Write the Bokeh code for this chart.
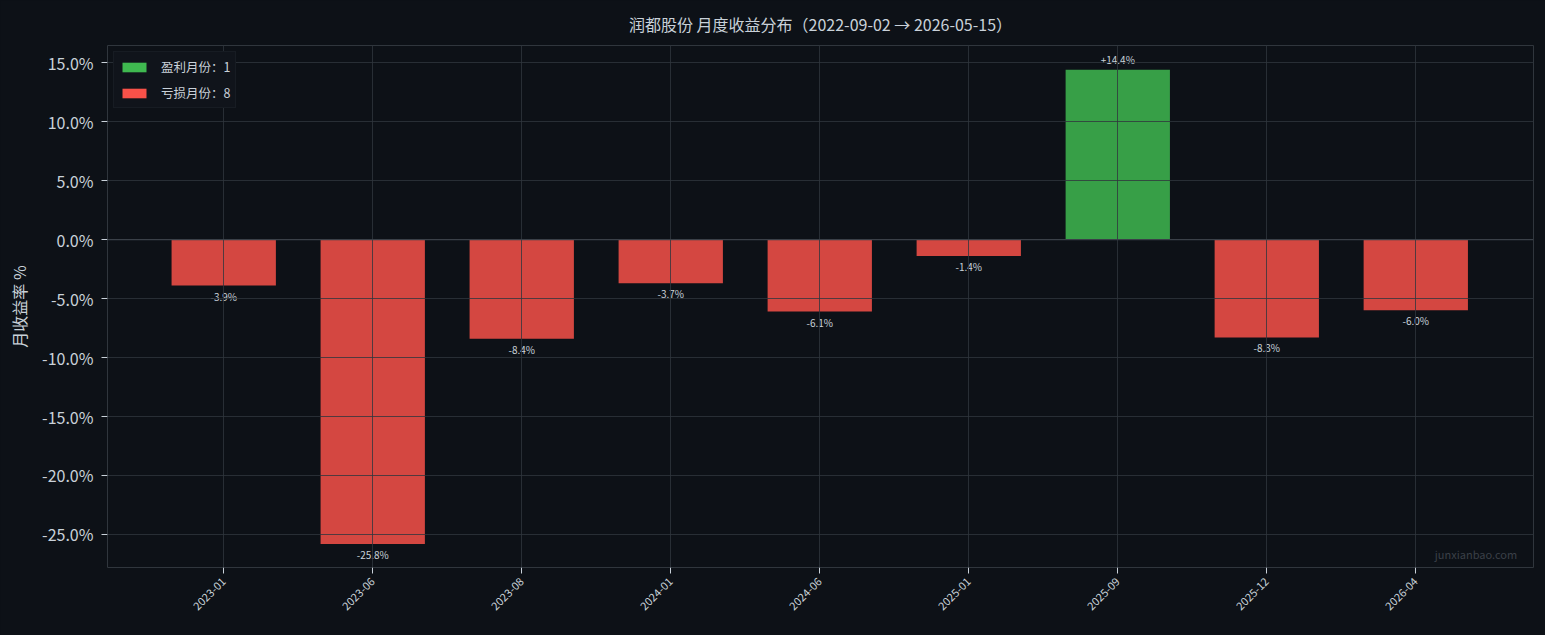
from bokeh.plotting import figure
from bokeh.models import Range1d, FixedTicker, Span, Label, Legend, LegendItem, ColumnDataSource
from bokeh.core.properties import value
from bokeh.embed import file_html
from bokeh.resources import INLINE
import math

months = ["2023-01", "2023-06", "2023-08", "2024-01", "2024-06", "2025-01", "2025-09", "2025-12", "2026-04"]
returns = [-3.9, -25.8, -8.4, -3.7, -6.1, -1.4, 14.4, -8.3, -6.0]
y_ticks = [-25, -20, -15, -10, -5, 0, 5, 10, 15]
title_text = "润都股份 月度收益分布（2022-09-02 → 2026-05-15）"
watermark = "junxianbao.com"

BG = "#0d1117"
GREEN = "#3fb950"
RED = "#f85149"
TXT = "#c9d1d9"
GRID = "#30363d"
FONT = "Noto Sans CJK SC"

idx = list(range(len(months)))
colors = [GREEN if r >= 0 else RED for r in returns]
labels = [("+%.1f%%" % r) if r >= 0 else ("%.1f%%" % r) for r in returns]
n_up = sum(1 for r in returns if r >= 0)
n_down = len(returns) - n_up

pos = [i for i, r in zip(idx, returns) if r >= 0]
neg = [i for i, r in zip(idx, returns) if r < 0]
src_pos = ColumnDataSource(dict(x=pos, y=[returns[i] for i in pos], t=[labels[i] for i in pos]))
src_neg = ColumnDataSource(dict(x=neg, y=[returns[i] for i in neg], t=[labels[i] for i in neg]))
src_bar = ColumnDataSource(dict(x=idx, top=returns, c=colors))

p = figure(width=1545, height=635, output_backend="svg", toolbar_location=None,
           x_range=Range1d(-0.78, 8.79), y_range=Range1d(-27.8, 16.45),
           min_border_left=107, min_border_right=12, min_border_top=0, min_border_bottom=68,
           background_fill_color=BG, border_fill_color=BG)

p.title.text = title_text
p.title.align = "center"
p.title.text_font = FONT
p.title.text_font_size = "16px"
p.title.text_font_style = "normal"
p.title.text_color = TXT
p.title.standoff = 19
p.title.padding = 0

p.vbar(x="x", top="top", bottom=0, width=0.7, source=src_bar, fill_color="c",
       fill_alpha=0.85, line_color=None)

# legend swatch renderers (zero-height, invisible in plot)
r_up = p.vbar(x=[0], top=[0], bottom=[0], width=0.001, fill_color=GREEN, line_color=None)
r_dn = p.vbar(x=[0], top=[0], bottom=[0], width=0.001, fill_color=RED, line_color=None)
legend = Legend(items=[LegendItem(label="盈利月份：%d" % n_up, renderers=[r_up]),
                       LegendItem(label="亏损月份：%d" % n_down, renderers=[r_dn])],
                location="top_left")
legend.label_text_font = FONT
legend.label_text_font_size = "12.5px"
legend.label_text_color = TXT
legend.background_fill_color = "#10141b"
legend.background_fill_alpha = 1.0
legend.border_line_color = "#1e232b"
legend.glyph_width = 30
legend.glyph_height = 12
legend.label_height = 14
legend.spacing = 7
legend.padding = 5
legend.margin = 6
legend.label_standoff = 12
p.add_layout(legend)

p.text(x="x", y="y", text="t", source=src_pos, text_font=value(FONT), text_font_size="10px",
       text_color=TXT, text_align="center", text_baseline="bottom", y_offset=-3)
p.text(x="x", y="y", text="t", source=src_neg, text_font=value(FONT), text_font_size="10px",
       text_color=TXT, text_align="center", text_baseline="top", y_offset=3)

p.add_layout(Span(location=0, dimension="width", line_color="#3a4048", line_width=1.2))

p.add_layout(Label(x=8.68, y=-27.35, text=watermark, text_font=FONT, text_font_size="11px",
                   text_color="#3b4048", text_align="right", text_baseline="bottom"))

# axes
p.xaxis.ticker = FixedTicker(ticks=idx)
p.xaxis.major_label_overrides = {i: m for i, m in zip(idx, months)}
p.xaxis.major_label_orientation = math.pi / 4
p.xaxis.major_label_text_font = FONT
p.xaxis.major_label_text_font_size = "11px"
p.xaxis.major_label_text_color = TXT
p.xaxis.major_label_standoff = 6
p.yaxis.ticker = FixedTicker(ticks=y_ticks)
p.yaxis.major_label_overrides = {t: "%.1f%%" % t for t in y_ticks}
p.yaxis.major_label_text_font = FONT
p.yaxis.major_label_text_font_size = "16px"
p.yaxis.major_label_text_color = TXT
p.yaxis.major_label_standoff = 8
p.yaxis.axis_label = "月收益率 %"
p.yaxis.axis_label_text_font = FONT
p.yaxis.axis_label_text_font_size = "16px"
p.yaxis.axis_label_text_font_style = "normal"
p.yaxis.axis_label_text_color = TXT
p.yaxis.axis_label_standoff = 8
for ax in (p.xaxis, p.yaxis):
    ax.axis_line_color = None
    ax.major_tick_line_color = TXT
    ax.major_tick_out = 6
    ax.major_tick_in = 0
    ax.minor_tick_line_color = None

p.outline_line_color = GRID
p.outline_line_width = 1
p.xgrid.grid_line_color = GRID
p.ygrid.grid_line_color = GRID
p.xgrid.grid_line_alpha = 0.8
p.ygrid.grid_line_alpha = 0.8
p.xgrid.level = "guide"
p.ygrid.level = "guide"

html = file_html(p, INLINE)
html = html.replace("<head>", "<head><style>html,body{background:#0d1117;}</style>", 1)
open("out.html", "w").write(html)
